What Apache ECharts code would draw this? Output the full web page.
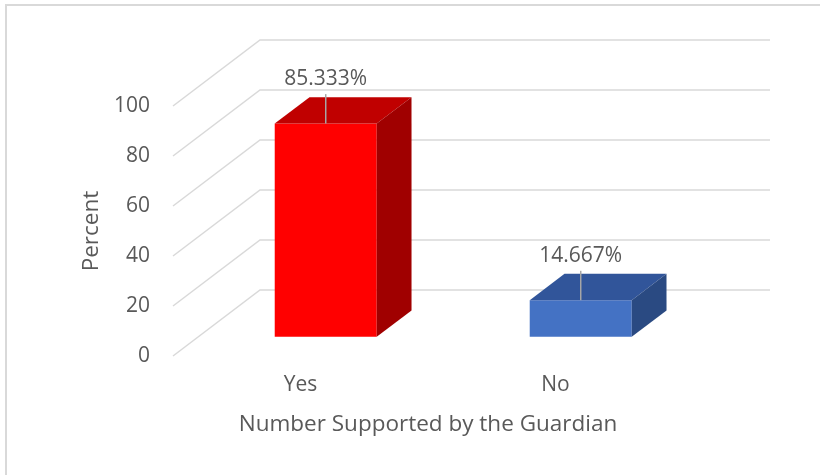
<!DOCTYPE html>
<html>
<head>
<meta charset="utf-8">
<script src="https://cdn.jsdelivr.net/npm/echarts@6/dist/echarts.min.js"></script>
<style>html,body{margin:0;padding:0;background:#fff}#c{width:820px;height:475px}</style>
</head>
<body>
<div id="c"></div>
<script>
var categories = ['Yes', 'No'];
var percentValues = [85.333, 14.667];
var yTicks = [0, 20, 40, 60, 80, 100];
var labelTexts = ['85.333%', '14.667%'];

var FRONT = ['#FF0000', '#4472C4'];
var TOP = ['#C00000', '#31559A'];
var SIDE = ['#A00000', '#2A4A82'];

var DX = 87, DY = -66;          // depth of the floor (front to back wall)
var F0 = 0.29, F1 = 0.69;       // bar front / back fraction of depth
var BW = 0.4;                   // bar width fraction of band
var FONT = '"Open Sans", "Noto Sans", sans-serif';
var TXT = '#595959';

var chart = echarts.init(document.getElementById('c'));

function gridItem(params, api) {
  var cs = params.coordSys;
  var v = api.value(1);
  var p = api.coord([0, v]);
  var x0 = cs.x, y0 = p[1];
  var style = { stroke: '#D9D9D9', lineWidth: 1.5, fill: null };
  return {
    type: 'group',
    children: [
      { type: 'polyline', shape: { points: [[x0, y0], [x0 + DX, y0 + DY], [cs.x + cs.width + DX, y0 + DY]] }, style: style, silent: true }
    ]
  };
}

function barItem(params, api) {
  var i = api.value(0);
  var v = api.value(1);
  var base = api.coord([i, 0]);
  var top = api.coord([i, v]);
  var band = api.size([1, 0])[0];
  var w = band * BW;
  var ox0 = DX * F0, oy0 = DY * F0;
  var ox1 = DX * F1, oy1 = DY * F1;
  var xl = base[0] - w / 2 + ox0, xr = base[0] + w / 2 + ox0;
  var yb = base[1] + oy0, yt = top[1] + oy0;
  var dx = ox1 - ox0, dy = oy1 - oy0;
  var idx = params.dataIndex;
  var cx = (xl + xr) / 2;
  return {
    type: 'group',
    children: [
      { type: 'rect', shape: { x: xl, y: yt, width: xr - xl, height: yb - yt }, style: { fill: FRONT[idx] } },
      { type: 'polygon', shape: { points: [[xl, yt], [xr, yt], [xr + dx, yt + dy], [xl + dx, yt + dy]] }, style: { fill: TOP[idx] } },
      { type: 'polygon', shape: { points: [[xr, yt], [xr + dx, yt + dy], [xr + dx, yb + dy], [xr, yb]] }, style: { fill: SIDE[idx] } },
      { type: 'line', shape: { x1: cx, y1: yt + dy - 3, x2: cx, y2: yt }, style: { stroke: '#A6A6A6', lineWidth: 1.5 } },
      { type: 'text', x: cx, y: yt + dy - 18, style: { text: labelTexts[idx], fill: TXT, font: '21px ' + FONT, align: 'center', verticalAlign: 'middle' } }
    ]
  };
}

chart.setOption({
  animation: false,
  backgroundColor: '#fff',
  graphic: [
    { type: 'rect', shape: { x: 6, y: 5, width: 830, height: 490 }, style: { fill: null, stroke: '#D9D9D9', lineWidth: 2 }, silent: true }
  ],
  grid: { left: 173, right: 137, top: 106, bottom: 119 },
  xAxis: {
    type: 'category',
    data: categories,
    axisLine: { show: false },
    axisTick: { show: false },
    axisLabel: { color: TXT, fontSize: 21, fontFamily: FONT, margin: 19 },
    name: 'Number Supported by the Guardian',
    nameLocation: 'middle',
    nameGap: 57,
    nameTextStyle: { color: TXT, fontSize: 22.5, fontFamily: FONT }
  },
  yAxis: {
    type: 'value',
    min: 0, max: 100, interval: 20,
    axisLine: { show: false },
    axisTick: { show: false },
    splitLine: { show: false },
    axisLabel: { color: TXT, fontSize: 21, fontFamily: FONT, margin: 23 },
    name: 'Percent',
    nameLocation: 'middle',
    nameGap: 70,
    nameTextStyle: { color: TXT, fontSize: 22.5, fontFamily: FONT }
  },
  series: [
    {
      type: 'custom',
      renderItem: gridItem,
      data: yTicks.map(function (t) { return [0, t]; }),
      z: 1,
      silent: true
    },
    {
      type: 'custom',
      renderItem: barItem,
      data: percentValues.map(function (v, i) { return [i, v]; }),
      z: 2
    }
  ]
});
</script>
</body>
</html>
